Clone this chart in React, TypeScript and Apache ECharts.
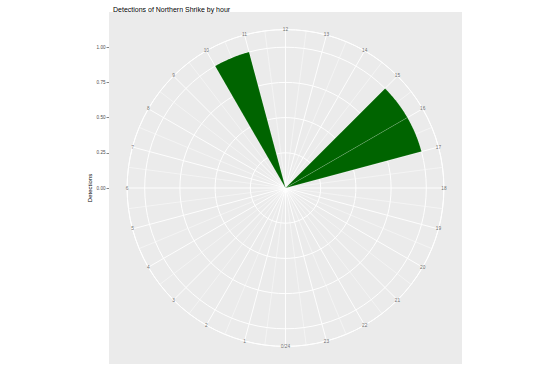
import React, { useEffect, useRef } from "react";
import * as echarts from "echarts";

const chartTitle = "Detections of Northern Shrike by hour";
const yTitle = "Detections";
// bins start hour (each bin spans one hour) and detections count
const hourBins = [10, 15, 16];
const detections = [1, 1, 1];
const hourTicks = [0, 1, 2, 3, 4, 5, 6, 7, 8, 9, 10, 11, 12, 13, 14, 15, 16, 17, 18, 19, 20, 21, 22, 23];
const hourLabels = ["0/24", "1", "2", "3", "4", "5", "6", "7", "8", "9", "10", "11", "12", "13", "14", "15", "16", "17", "18", "19", "20", "21", "22", "23"];
const yTicks = [0, 0.25, 0.5, 0.75, 1.0];
const yTickLabels = ["0.00", "0.25", "0.50", "0.75", "1.00"];

const FONT = "'Liberation Sans', Arial, Helvetica, sans-serif";
const PANEL = { x: 109, y: 12, w: 353, h: 352 };
const CX = PANEL.x + PANEL.w / 2;
const CY = PANEL.y + PANEL.h / 2;
const R_OUT = 0.45 * PANEL.h; // outer circle
const R_MAX = 1.125; // data value at outer circle

export default function App() {
  const ref = useRef<HTMLDivElement>(null);
  useEffect(() => {
    if (!ref.current) return;
    const chart = echarts.init(ref.current, undefined, { renderer: "svg" });
    chart.setOption({
      animation: false,
      backgroundColor: "#ffffff",
      title: {
        text: chartTitle,
        left: PANEL.x - 1,
        top: 1,
        textStyle: { fontFamily: FONT, fontSize: 7, fontWeight: "normal", color: "#000000" },
      },
      graphic: [
        {
          type: "rect",
          z: -10,
          silent: true,
          shape: { x: PANEL.x, y: PANEL.y, width: PANEL.w, height: PANEL.h },
          style: { fill: "#EBEBEB" },
        },
      ],
      grid: {
        left: PANEL.x,
        top: CY - R_OUT,
        height: 2 * R_OUT,
        width: 10,
        containLabel: false,
      },
      xAxis: { type: "value", show: false },
      yAxis: {
        type: "value",
        min: -R_MAX,
        max: R_MAX,
        position: "left",
        name: yTitle,
        nameLocation: "middle",
        nameRotate: 90,
        nameGap: 11,
        nameTextStyle: { fontFamily: FONT, fontSize: 6, color: "#000000" },
        axisLine: { show: false, onZero: false },
        axisTick: {
          show: true,
          length: 2.5,
          customValues: yTicks,
          lineStyle: { color: "#333333", width: 0.6 },
        },
        axisLabel: {
          fontFamily: FONT,
          fontSize: 4.6,
          color: "#4D4D4D",
          margin: 3.5,
          customValues: yTicks,
          formatter: (v: number) => {
            const i = yTicks.findIndex((t) => Math.abs(t - v) < 1e-9);
            return i >= 0 ? yTickLabels[i] : "";
          },
        },
        splitLine: { show: false },
      },
      polar: { center: [CX, CY], radius: R_OUT },
      radiusAxis: {
        type: "value",
        min: 0,
        max: R_MAX,
        interval: 0.25,
        axisLine: { show: false },
        axisTick: { show: false },
        axisLabel: { show: false },
        splitLine: { show: true, lineStyle: { color: "#FFFFFF", width: 1 } },
      },
      angleAxis: {
        type: "value",
        min: 0,
        max: 24,
        interval: 1,
        startAngle: 270,
        clockwise: true,
        axisLine: { show: true, lineStyle: { color: "#FFFFFF", width: 1 } },
        axisTick: { show: false },
        axisLabel: { show: false },
        splitLine: { show: true, lineStyle: { color: "#FFFFFF", width: 0.9 } },
        minorTick: { show: false, splitNumber: 2 },
        minorSplitLine: { show: true, lineStyle: { color: "#FFFFFF", width: 0.45 } },
      },
      series: [
        {
          type: "custom",
          coordinateSystem: "polar",
          silent: true,
          data: hourBins.map((h, i) => [detections[i], h]),
          renderItem: (params: any, api: any) => {
            const r = api.value(0);
            const h = api.value(1);
            const pts: number[][] = [api.coord([0, h])];
            const n = 30;
            for (let k = 0; k <= n; k++) pts.push(api.coord([r, h + k / n]));
            return {
              type: "polygon",
              shape: { points: pts },
              style: { fill: "#006400", stroke: "rgba(255,255,255,0.35)", lineWidth: 0.4 },
            };
          },
        },
        {
          type: "scatter",
          coordinateSystem: "polar",
          silent: true,
          symbolSize: 1,
          itemStyle: { color: "rgba(0,0,0,0)" },
          data: hourTicks.map((h) => [R_MAX, h]),
          label: {
            show: true,
            position: "inside",
            formatter: (p: any) => hourLabels[p.dataIndex],
            fontFamily: FONT,
            fontSize: 4.8,
            color: "#4D4D4D",
          },
        },
      ],
    });
    return () => chart.dispose();
  }, []);
  return (
    <div
      ref={ref}
      style={{ position: "absolute", left: 0, top: 0, width: 553, height: 379 }}
    />
  );
}
